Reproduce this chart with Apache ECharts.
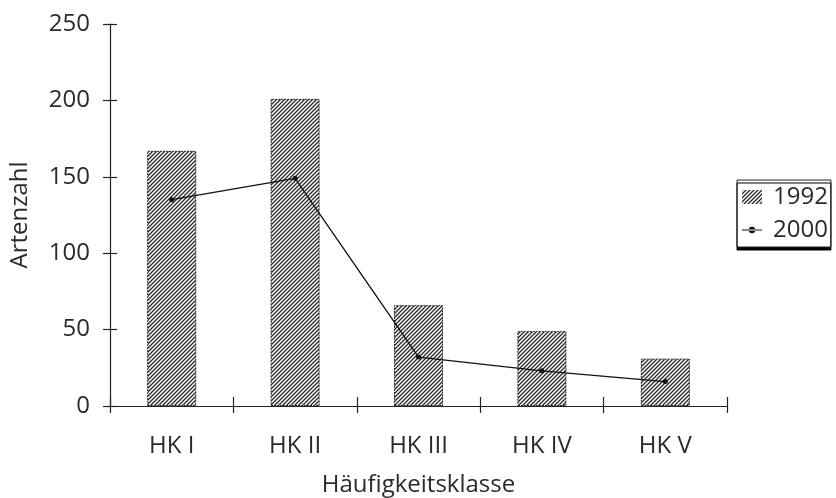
<!DOCTYPE html>
<html>
<head>
<meta charset="utf-8">
<script src="https://cdn.jsdelivr.net/npm/echarts@6/dist/echarts.min.js"></script>
<style>
  html, body { margin: 0; padding: 0; background: #fff; }
  #chart { width: 836px; height: 498px; }
</style>
</head>
<body>
<div id="chart"></div>
<script>
// Species counts per frequency class
const categories = ['HK I', 'HK II', 'HK III', 'HK IV', 'HK V'];
const values1992 = [167, 201, 66, 49, 31];
const values2000 = [135, 149, 32, 23, 16];
const yTicks = { min: 0, max: 250, interval: 50 };

// Diagonal hatch pattern for the 1992 bars
function makeHatch() {
  const s = 4;
  const c = document.createElement('canvas');
  c.width = s; c.height = s;
  const g = c.getContext('2d');
  g.fillStyle = '#ffffff';
  g.fillRect(0, 0, s, s);
  g.strokeStyle = '#2a2a2a';
  g.lineWidth = 1.3;
  g.beginPath();
  g.moveTo(-1, s + 1); g.lineTo(s + 1, -1);
  g.moveTo(-1, 1); g.lineTo(1, -1);
  g.moveTo(s - 1, s + 1); g.lineTo(s + 1, s - 1);
  g.stroke();
  return c;
}
const hatch = { image: makeHatch(), repeat: 'repeat' };

// Legend icon for the line series: thin stroke with a small dot, padded to a 20x14 box
const lineIcon = 'path://M0,0h0.01v0.01h-0.01z M19.99,13.99h0.01v0.01h-0.01z ' +
  'M0,6.5h20v1h-20z M10,7m-3.2,0a3.2,3.2 0 1,0 6.4,0a3.2,3.2 0 1,0 -6.4,0z';

const font = '"Open Sans", "DejaVu Sans", sans-serif';
const textColor = '#2a2a2a';
const fs = 24;

const chart = echarts.init(document.getElementById('chart'), null, { renderer: 'canvas' });
chart.setOption({
  backgroundColor: '#ffffff',
  animation: false,
  textStyle: { fontFamily: font, color: textColor },
  grid: { left: 110, right: 109, top: 24, bottom: 92, containLabel: false, outerBoundsMode: 'none' },
  legend: {
    orient: 'vertical',
    left: 737, top: 180,
    padding: [5, 3, 5, 5],
    itemGap: 9,
    itemWidth: 20, itemHeight: 14,
    borderColor: '#222', borderWidth: 1,
    backgroundColor: '#fff',
    shadowColor: '#000', shadowBlur: 0, shadowOffsetX: 0, shadowOffsetY: 3,
    textStyle: { fontFamily: font, fontSize: fs, color: textColor, padding: [0, 0, 0, 6] },
    data: [
      { name: '1992', icon: 'rect', itemStyle: { borderWidth: 0 } },
      { name: '2000', icon: lineIcon, itemStyle: { color: '#111', borderWidth: 0 } }
    ]
  },
  xAxis: [
    {
      type: 'category',
      data: categories,
      boundaryGap: true,
      name: 'Häufigkeitsklasse',
      nameLocation: 'middle',
      nameGap: 67,
      nameTextStyle: { fontFamily: font, fontSize: fs, color: textColor },
      axisLine: { lineStyle: { color: '#222', width: 1.2 } },
      axisTick: { show: true, inside: false, length: 7, lineStyle: { color: '#222', width: 1.2 } },
      axisLabel: { margin: 28, fontFamily: font, fontSize: fs, color: textColor },
      splitLine: { show: false }
    },
    {
      type: 'category',
      data: categories,
      position: 'bottom',
      boundaryGap: true,
      axisLine: { show: false },
      axisTick: { show: true, inside: true, length: 9, lineStyle: { color: '#222', width: 1.2 } },
      axisLabel: { show: false },
      splitLine: { show: false }
    }
  ],
  yAxis: [
    {
      type: 'value',
      min: yTicks.min, max: yTicks.max, interval: yTicks.interval,
      name: 'Artenzahl',
      nameLocation: 'middle',
      nameGap: 78,
      nameRotate: 90,
      nameTextStyle: { fontFamily: font, fontSize: fs, color: textColor },
      axisLine: { show: true, lineStyle: { color: '#222', width: 1.2 } },
      axisTick: { show: true, inside: false, length: 7, lineStyle: { color: '#222', width: 1.2 } },
      axisLabel: { margin: 20, fontFamily: font, fontSize: fs, color: textColor },
      splitLine: { show: false }
    },
    {
      type: 'value',
      position: 'left',
      min: yTicks.min, max: yTicks.max, interval: yTicks.interval,
      axisLine: { show: false },
      axisTick: { show: true, inside: true, length: 7, lineStyle: { color: '#222', width: 1.2 } },
      axisLabel: { show: false },
      splitLine: { show: false }
    }
  ],
  series: [
    {
      name: '1992',
      type: 'bar',
      data: values1992,
      barWidth: 49,
      itemStyle: {
        color: hatch,
        borderColor: '#222',
        borderWidth: 1,
        borderType: [2, 1]
      },
      emphasis: { disabled: true }
    },
    {
      name: '2000',
      type: 'line',
      data: values2000,
      symbol: 'circle',
      symbolSize: 5,
      lineStyle: { color: '#111', width: 1.3 },
      itemStyle: { color: '#111' },
      emphasis: { disabled: true },
      z: 5
    }
  ]
});
</script>
</body>
</html>
